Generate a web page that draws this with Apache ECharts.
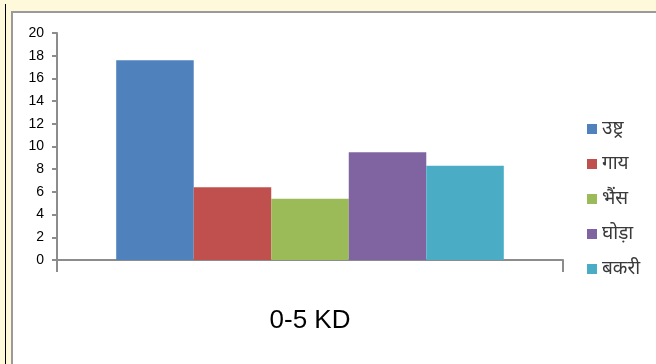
<!DOCTYPE html>
<html>
<head>
<meta charset="utf-8">
<script src="https://cdn.jsdelivr.net/npm/echarts@6/dist/echarts.min.js"></script>
<style>
  html, body { margin: 0; padding: 0; width: 656px; height: 364px; overflow: hidden; background: #FFF9DC; }
  #rule { position: absolute; left: 5px; top: 4px; width: 1px; height: 360px; background: #000; }
  #chart { position: absolute; left: 11px; top: 11px; width: 645px; height: 353px;
           border-left: 2px solid #9a9a9a; border-top: 2px solid #9a9a9a; background: #fff; }
</style>
</head>
<body>
<div id="rule"></div>
<div id="chart"></div>
<script>
// Age group on the category axis
const categories = ['0-5 KD'];
// Animal names shown in the legend
const animals = ['उष्ट्र', 'गाय', 'भैंस', 'घोड़ा', 'बकरी'];
// One value per animal for the 0-5 KD group
const camelValues = [17.6];
const cowValues = [6.4];
const buffaloValues = [5.4];
const horseValues = [9.5];
const goatValues = [8.3];
// Y axis ticks
const yTicks = [0, 2, 4, 6, 8, 10, 12, 14, 16, 18, 20];

const seriesValues = [camelValues, cowValues, buffaloValues, horseValues, goatValues];
const colors = ['#4F81BD', '#C0504D', '#9BBB59', '#8064A2', '#4BACC6'];

const axisGray = '#8c8c8c';
const chart = echarts.init(document.getElementById('chart'), null, { renderer: 'canvas' });

chart.setOption({
  animation: false,
  backgroundColor: '#ffffff',
  color: colors,
  grid: { left: 44, top: 20, width: 506, height: 227, containLabel: false },
  legend: {
    orient: 'vertical',
    left: 569,
    top: 101,
    icon: 'rect',
    itemWidth: 10,
    itemHeight: 10,
    itemGap: 15,
    data: animals,
    textStyle: { fontFamily: 'Noto Sans, sans-serif', fontSize: 19, color: '#3a3a3a', lineHeight: 20 }
  },
  xAxis: {
    type: 'category',
    data: categories,
    axisLine: { show: true, lineStyle: { color: axisGray, width: 2 } },
    axisTick: { show: true, alignWithLabel: false, length: 12, lineStyle: { color: axisGray, width: 2 } },
    axisLabel: { margin: 48, fontSize: 26, color: '#000', fontFamily: '"Liberation Sans", sans-serif' },
    splitLine: { show: false }
  },
  yAxis: {
    type: 'value',
    min: yTicks[0],
    max: yTicks[yTicks.length - 1],
    interval: yTicks[1] - yTicks[0],
    axisLine: { show: true, lineStyle: { color: axisGray, width: 2 } },
    axisTick: { show: true, length: 5, lineStyle: { color: axisGray, width: 2 } },
    axisLabel: { margin: 13, fontSize: 14, color: '#000', fontFamily: '"Liberation Sans", sans-serif' },
    splitLine: { show: false }
  },
  series: animals.map((name, i) => ({
    name: name,
    type: 'bar',
    data: seriesValues[i],
    barGap: '0%',
    barCategoryGap: '23.4%',
    itemStyle: { color: colors[i] }
  }))
});
</script>
</body>
</html>
